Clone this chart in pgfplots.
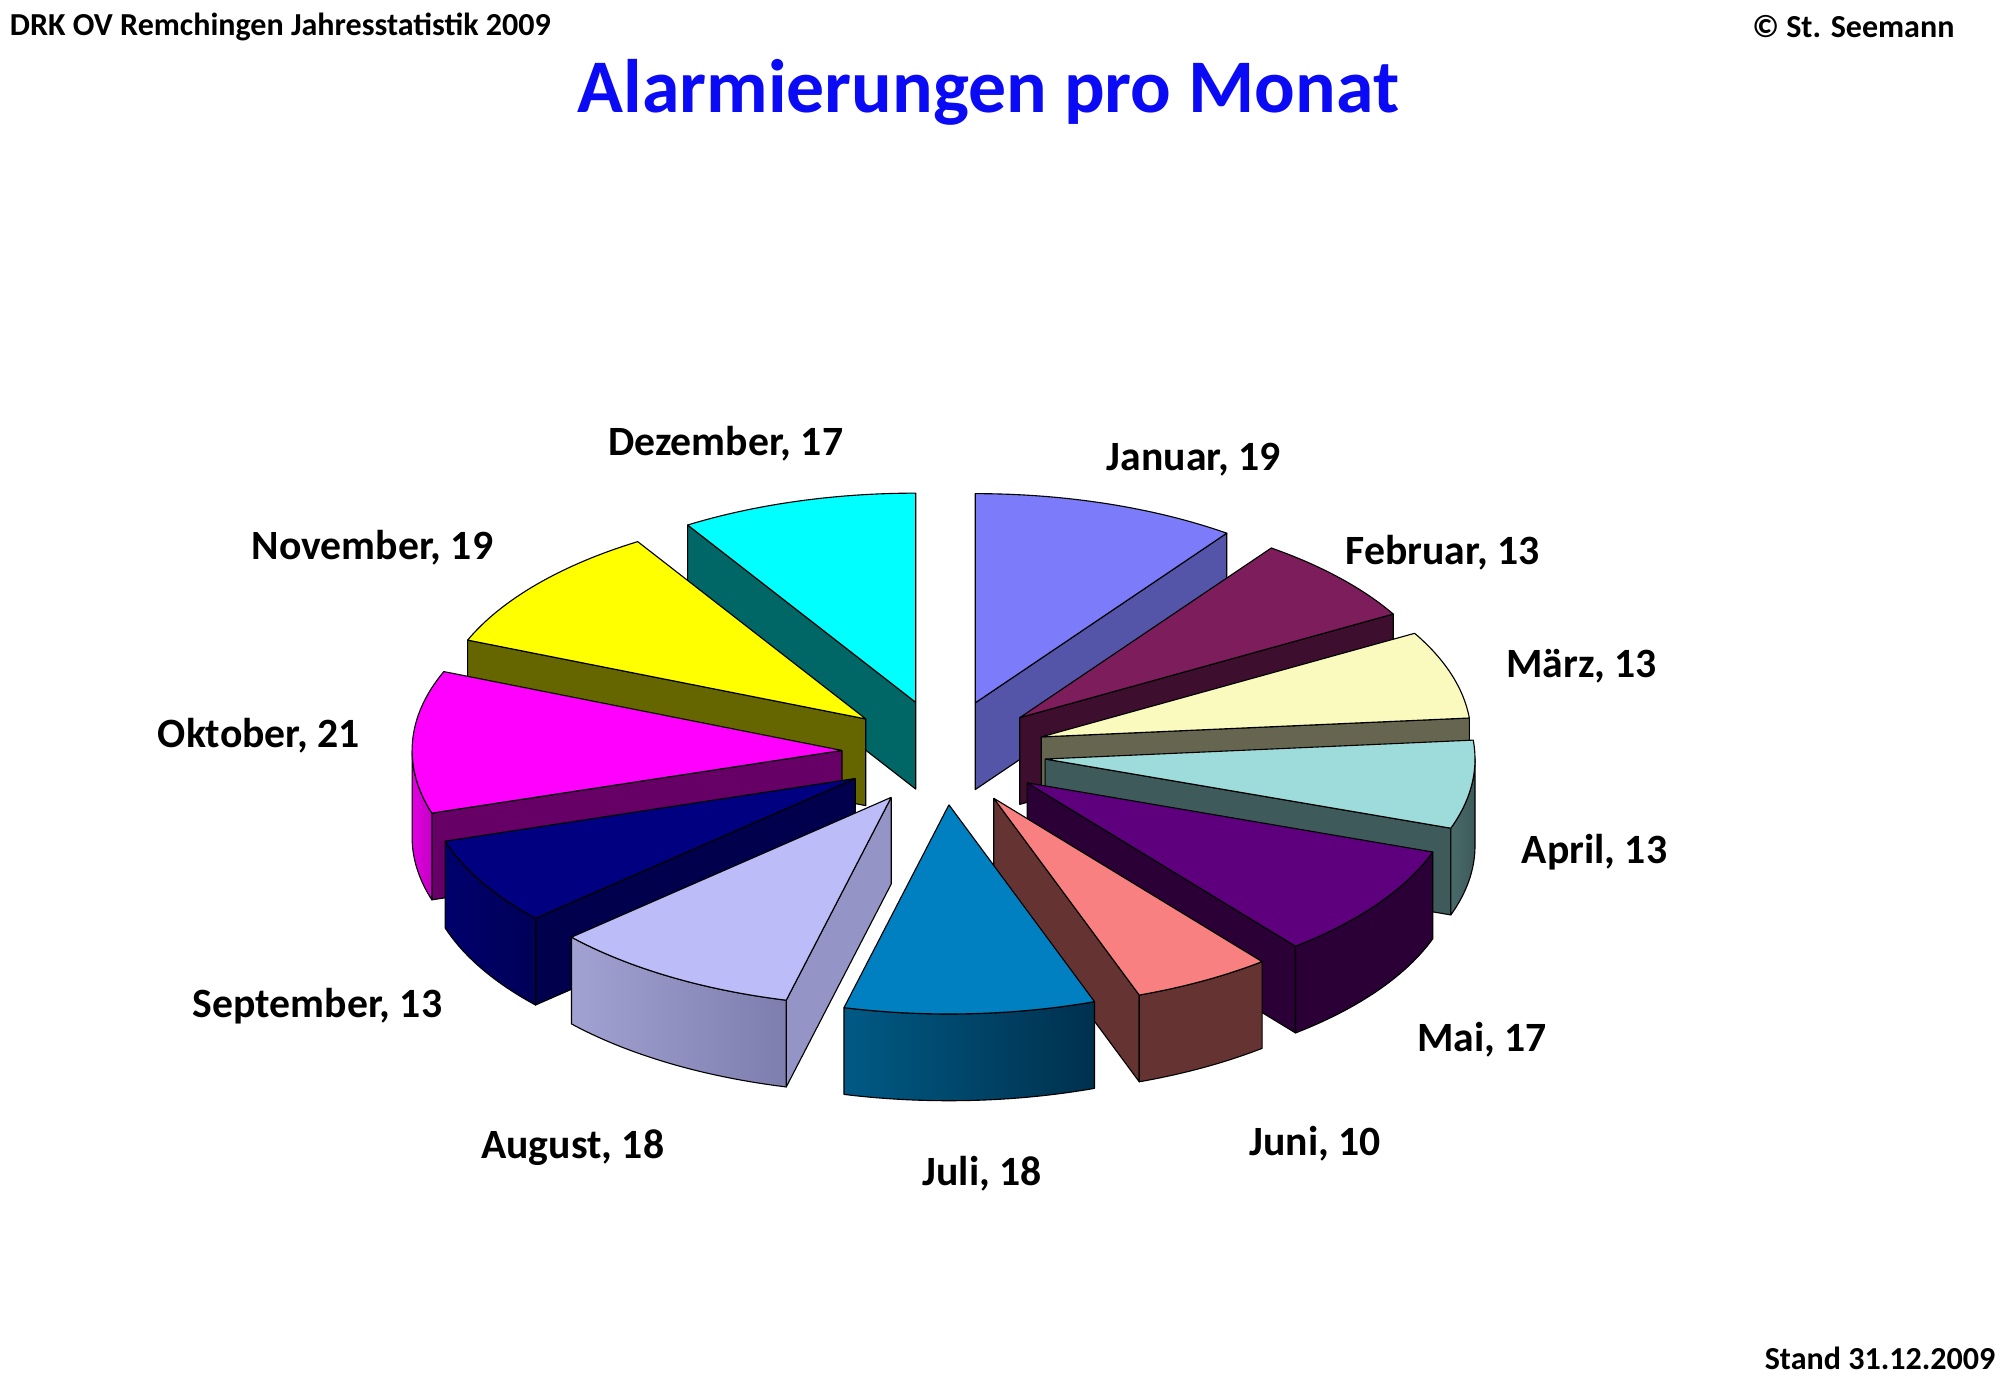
\documentclass[border=0pt]{standalone}
\usepackage{pgfplots}
\pgfplotsset{compat=1.18}
\usepackage{pgfplotstable}
\usepackage{fontspec}
\setmainfont{Carlito}

\pgfplotstableread{
name value
Januar 19
Februar 13
März 13
April 13
Mai 17
Juni 10
Juli 18
August 18
September 13
Oktober 21
November 19
Dezember 17
}\pietable

\newcommand\slicecolors[5]{%
  \definecolor{top#1}{HTML}{#2}\definecolor{rad#1}{HTML}{#3}%
  \definecolor{outL#1}{HTML}{#4}\definecolor{outR#1}{HTML}{#5}}
\slicecolors{0}{7C7CFA}{5454A8}{5454A8}{5454A8}
\slicecolors{1}{7D1D5B}{3E0E2E}{3E0E2E}{3E0E2E}
\slicecolors{2}{FAFABE}{666650}{666650}{666650}
\slicecolors{3}{9EDCDC}{3E5A5A}{4A6A6A}{3E5A5A}
\slicecolors{4}{5E007E}{2A0036}{2A0036}{2A0036}
\slicecolors{5}{F88080}{663333}{663333}{663333}
\slicecolors{6}{0080C0}{00466B}{005A85}{00304E}
\slicecolors{7}{BCBCF8}{9494C6}{A2A2D2}{7E7EAE}
\slicecolors{8}{000080}{00004C}{00006C}{000058}
\slicecolors{9}{FF00FF}{660066}{E200E2}{C400C4}
\slicecolors{10}{FFFF00}{666600}{666600}{666600}
\slicecolors{11}{00FFFF}{006666}{006666}{006666}
\definecolor{titleblue}{HTML}{0A0AF5}

% geometry (units of the axis = pixels of a 1568 x 1087 frame)
\def\pieCX{740}\def\pieCY{590}
\def\pieRX{337}\def\pieRY{164}
\def\pieEX{80}\def\pieEY{41}
\def\pieH{68}

% totals and angles
\def\pietotal{0}
\pgfplotsforeachungrouped \i in {0,...,11}{%
  \pgfplotstablegetelem{\i}{value}\of\pietable
  \pgfmathsetmacro\pietotal{\pietotal+\pgfplotsretval}%
}
\def\piecum{0}
\pgfplotsforeachungrouped \i in {0,...,11}{%
  \pgfplotstablegetelem{\i}{value}\of\pietable
  \let\pieval\pgfplotsretval
  \pgfmathsetmacro\aHi{90-(\piecum/\pietotal)*360}%
  \pgfmathsetmacro\piecum{\piecum+\pieval}%
  \pgfmathsetmacro\aLo{90-(\piecum/\pietotal)*360}%
  \pgfmathsetmacro\aMid{(\aHi+\aLo)/2}%
  \pgfmathsetmacro\tipx{\pieCX+\pieEX*cos(\aMid)}%
  \pgfmathsetmacro\tipy{\pieCY-\pieEY*sin(\aMid)}%
  \expandafter\xdef\csname pieLo\i\endcsname{\aLo}%
  \expandafter\xdef\csname pieHi\i\endcsname{\aHi}%
  \expandafter\xdef\csname pieTx\i\endcsname{\tipx}%
  \expandafter\xdef\csname pieTy\i\endcsname{\tipy}%
}

% append arc points to \pielist
\newcommand\piearc[5]{%
  \pgfplotsforeachungrouped \k in {0,...,32}{%
    \pgfmathsetmacro\ang{#3+(#4-#3)*\k/32}%
    \pgfmathsetmacro\px{#1+\pieRX*cos(\ang)}%
    \pgfmathsetmacro\py{#2-\pieRY*sin(\ang)+#5}%
    \xdef\pielist{\pielist(\px,\py)}%
  }}

\newcommand\drawslice[1]{%
  \edef\sLo{\csname pieLo#1\endcsname}%
  \edef\sHi{\csname pieHi#1\endcsname}%
  \edef\tx{\csname pieTx#1\endcsname}%
  \edef\ty{\csname pieTy#1\endcsname}%
  \pgfmathsetmacro\tyb{\ty+\pieH}%
  % radial wall at the lower angle
  \pgfmathtruncatemacro\vis{cos(\sLo)>0.001}%
  \ifnum\vis=1
    \pgfmathsetmacro\ax{\tx+\pieRX*cos(\sLo)}%
    \pgfmathsetmacro\ay{\ty-\pieRY*sin(\sLo)}%
    \pgfmathsetmacro\ayb{\ay+\pieH}%
    \edef\doit{\noexpand\addplot[pieface, fill=rad#1] coordinates {(\tx,\ty) (\ax,\ay) (\ax,\ayb) (\tx,\tyb) (\tx,\ty)};}\doit
  \fi
  % radial wall at the upper angle
  \pgfmathtruncatemacro\vis{cos(\sHi)<-0.001}%
  \ifnum\vis=1
    \pgfmathsetmacro\ax{\tx+\pieRX*cos(\sHi)}%
    \pgfmathsetmacro\ay{\ty-\pieRY*sin(\sHi)}%
    \pgfmathsetmacro\ayb{\ay+\pieH}%
    \edef\doit{\noexpand\addplot[pieface, fill=rad#1] coordinates {(\tx,\ty) (\ax,\ay) (\ax,\ayb) (\tx,\tyb) (\tx,\ty)};}\doit
  \fi
  % outer wall (front part only)
  \pgfmathsetmacro\fA{max(\sLo,-180)}%
  \pgfmathsetmacro\fB{min(\sHi,0)}%
  \pgfmathtruncatemacro\vis{\fB-\fA>0.01}%
  \ifnum\vis=1
    \gdef\pielist{}%
    \piearc{\tx}{\ty}{\fA}{\fB}{0}%
    \piearc{\tx}{\ty}{\fB}{\fA}{\pieH}%
    \pgfmathsetmacro\ax{\tx+\pieRX*cos(\fA)}%
    \pgfmathsetmacro\ay{\ty-\pieRY*sin(\fA)}%
    \edef\doit{\noexpand\addplot[pieface, left color=outL#1, right color=outR#1] coordinates {\pielist (\ax,\ay)};}\doit
  \fi
  % top face
  \gdef\pielist{}%
  \piearc{\tx}{\ty}{\sLo}{\sHi}{0}%
  \edef\doit{\noexpand\addplot[pieface, fill=top#1] coordinates {(\tx,\ty) \pielist (\tx,\ty)};}\doit
}

\begin{document}
\begin{tikzpicture}
\begin{axis}[
  width=156.8mm, height=108.7mm, scale only axis,
  hide axis, clip=false,
  xmin=0, xmax=1568, ymin=0, ymax=1087, y dir=reverse,
  no markers,
  pieface/.style={draw=black, line width=0.25pt, line join=round},
]
\coordinate (bbA) at (axis cs:0,1087);
\coordinate (bbB) at (axis cs:1568,0);
% back to front
\drawslice{11}
\drawslice{0}
\drawslice{1}
\drawslice{10}
\drawslice{2}
\drawslice{9}
\drawslice{3}
\drawslice{8}
\drawslice{4}
\drawslice{7}
\drawslice{5}
\drawslice{6}

\tikzset{lbl/.style={font=\fontsize{9.3}{11}\selectfont\bfseries, inner sep=0pt}}
\node[lbl] at (axis cs:936,360) {Januar, 19};
\node[lbl] at (axis cs:1131,433) {Februar, 13};
\node[lbl] at (axis cs:1240,522) {März, 13};
\node[lbl] at (axis cs:1250,668) {April, 13};
\node[lbl] at (axis cs:1162,815) {Mai, 17};
\node[lbl] at (axis cs:1031,897) {Juni, 10};
\node[lbl] at (axis cs:770,920) {Juli, 18};
\node[lbl] at (axis cs:449,900) {August, 18};
\node[lbl] at (axis cs:249,789) {September, 13};
\node[lbl] at (axis cs:203,577) {Oktober, 21};
\node[lbl] at (axis cs:292,429) {November, 19};
\node[lbl] at (axis cs:569,348) {Dezember, 17};

\node[font=\fontsize{16.9}{20}\selectfont\bfseries, text=titleblue, anchor=base, inner sep=0pt]
  at (axis cs:775,88) {Alarmierungen pro Monat};
\node[font=\fontsize{7.15}{8}\selectfont\bfseries, anchor=west, inner sep=0pt]
  at (axis cs:7,21) {DRK OV Remchingen Jahresstatistik 2009};
\node[font=\fontsize{7.15}{8}\selectfont\bfseries, anchor=east, inner sep=0pt]
  at (axis cs:1533,21) {© St. Seemann};
\node[font=\fontsize{7.15}{8}\selectfont\bfseries, anchor=east, inner sep=0pt]
  at (axis cs:1565,1065) {Stand 31.12.2009};
\end{axis}
\pgfresetboundingbox
\useasboundingbox (bbA) rectangle (bbB);
\end{tikzpicture}
\end{document}
